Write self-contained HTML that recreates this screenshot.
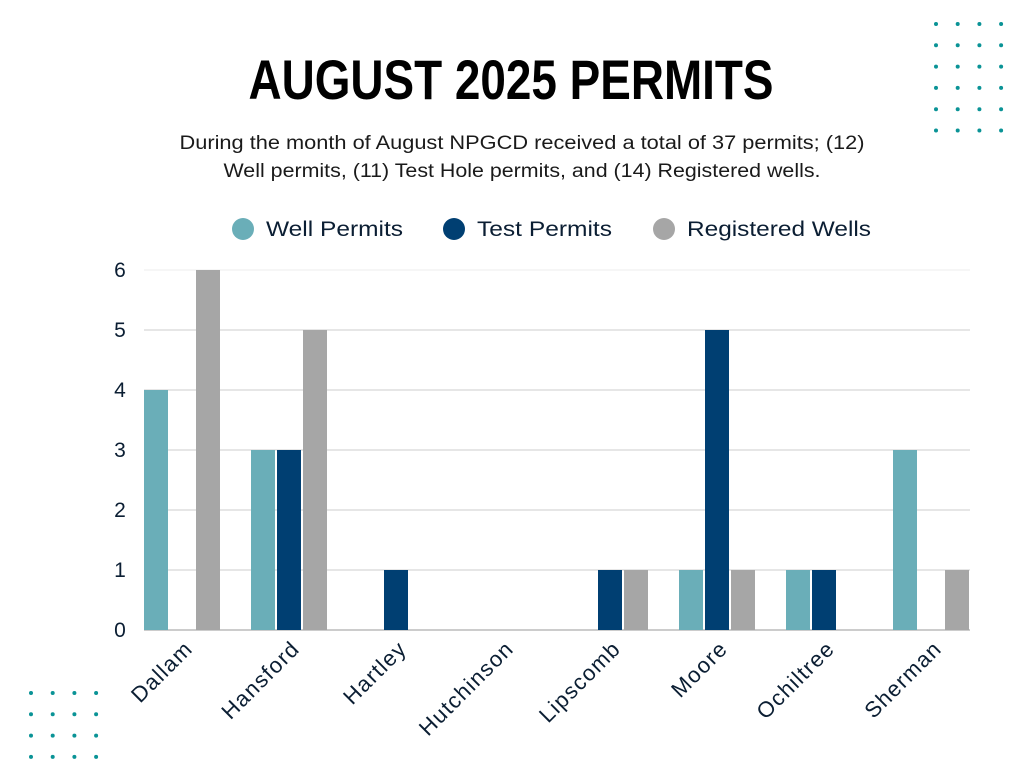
<!DOCTYPE html>
<html><head><meta charset="utf-8"><style>
html,body{margin:0;padding:0;background:#fff;}
svg{display:block;font-family:"Liberation Sans",sans-serif;}
</style></head><body>
<svg id="c" width="1024" height="768" viewBox="0 0 1024 768">
<g id="dots"></g>
<text x="511" y="99" text-anchor="middle" font-size="56" font-weight="bold" fill="#000" textLength="525" lengthAdjust="spacingAndGlyphs">AUGUST 2025 PERMITS</text>
<text x="522" y="149" text-anchor="middle" font-size="19" fill="#1a1a1a" textLength="685" lengthAdjust="spacingAndGlyphs">During the month of August NPGCD received a total of 37 permits; (12)</text>
<text x="522" y="177" text-anchor="middle" font-size="19" fill="#1a1a1a" textLength="597" lengthAdjust="spacingAndGlyphs">Well permits, (11) Test Hole permits, and (14) Registered wells.</text>
<g id="legend"></g>
<g id="grid"></g>
<g id="bars"></g>
<g id="labels"></g>
</svg>
<script>
const categories=["Dallam","Hansford","Hartley","Hutchinson","Lipscomb","Moore","Ochiltree","Sherman"];
const wellPermits=[4,3,0,0,0,1,1,3];
const testPermits=[0,3,1,0,1,5,1,0];
const registeredWells=[6,5,0,0,1,1,0,1];
const yTicks=[0,1,2,3,4,5,6];
const seriesNames=["Well Permits","Test Permits","Registered Wells"];
const NS="http://www.w3.org/2000/svg";
const colors=["#6aaeb8","#003f72","#a6a6a6"];
const x0=144,x1=970,pitch=107,bw=24,gap=2;
const yS=v=>630-v*60;
const xS=(i,s)=>x0+i*pitch+s*(bw+gap);
function mk(tag,at,parent){const e=document.createElementNS(NS,tag);for(const k in at)e.setAttribute(k,at[k]);document.getElementById(parent).appendChild(e);return e;}
[[936,24,6],[31,693,4]].forEach(([sx,sy,rows])=>{for(let r=0;r<rows;r++)for(let c=0;c<4;c++){const d=mk('circle',{cx:sx+c*21.7,cy:sy+r*21.3,r:2,fill:'#0a9396'},'dots');

}});
yTicks.forEach(t=>{const l=mk('line',{x1:x0,x2:x1,y1:yS(t),y2:yS(t),stroke:t===0?'#999':(t===6?'#eee':'#ccc'),'stroke-width':1},'grid');


const tx=mk('text',{x:120,y:yS(t)+7,'text-anchor':'middle','font-size':21,fill:'#0b1e33'},'grid');tx.textContent=t;

});
const lx=[243,454,664];
const lw=[137,135,184];
seriesNames.forEach((n,s)=>{const c=mk('circle',{cx:lx[s],cy:229,r:11,fill:colors[s]},'legend');


const t=mk('text',{x:lx[s]+23,y:236,'font-size':21,fill:'#0b1e33',textLength:lw[s],lengthAdjust:'spacingAndGlyphs'},'legend');t.textContent=n;

});
[wellPermits,testPermits,registeredWells].forEach((arr,s)=>arr.forEach((v,i)=>{if(v<=0)return;
const r=mk('rect',{x:xS(i,s),y:yS(v),width:bw,height:yS(0)-yS(v),fill:colors[s]},'bars');

}));
categories.forEach((c,i)=>{const cx=x0+i*pitch+37+13;const t=mk('text',{x:cx,y:650,'text-anchor':'end','font-size':22,'letter-spacing':1.3,fill:'#0b1e33',transform:`rotate(-45 ${cx} 650)`},'labels');t.textContent=c;

});
</script>
</body></html>
